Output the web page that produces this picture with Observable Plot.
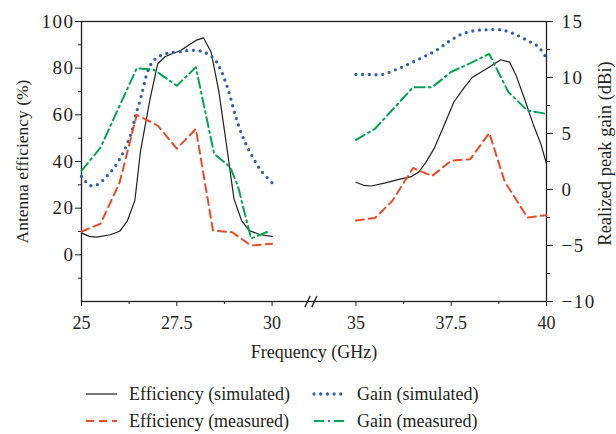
<!DOCTYPE html>
<html><head><meta charset="utf-8">
<script src="https://cdn.jsdelivr.net/npm/d3@7"></script>
<script src="https://cdn.jsdelivr.net/npm/@observablehq/plot@0.6"></script>
<style>
body{margin:0;background:#fff;font-family:"Liberation Serif","Times New Roman",serif;}
#wrap{position:relative;width:616px;height:434px;overflow:hidden;}
.leg{position:absolute;display:flex;align-items:center;font-size:18px;color:#231f20;white-space:nowrap;height:20px;}
.leg svg{margin-right:11px;}
.yt text{letter-spacing:1.5px;}
</style></head><body><div id="wrap"><div id="chart"></div></div>
<script>
// ---- data ----
const effSimF1 = [25, 25.2, 25.4, 25.75, 26.0, 26.2, 26.4, 26.55, 26.8, 27.0, 27.2, 27.6, 28.0, 28.2, 28.4, 28.6, 28.8, 29.0, 29.2, 29.4, 29.7, 30.0];
const effSimV1 = [9.4, 7.9, 7.6, 8.6, 10.1, 14.4, 23.3, 44.7, 66.9, 81.9, 85, 87.6, 91.9, 93, 86.9, 70.4, 47.6, 24, 14.7, 10.4, 8.6, 7.9];
const effSimF2 = [35, 35.2, 35.4, 35.75, 36.1, 36.45, 36.65, 36.83, 37.05, 37.3, 37.57, 37.85, 38.05, 38.45, 38.8, 39.03, 39.2, 39.42, 39.65, 39.85, 40];
const effSimV2 = [31.1, 29.8, 29.5, 30.7, 32.2, 33.5, 35.5, 39.5, 45.5, 55, 65.5, 71.9, 76, 80, 83.6, 82.6, 77, 67, 56, 47.6, 39];

const effMeasF1 = [25, 25.5, 26.0, 26.45, 27.0, 27.5, 28.0, 28.45, 28.95, 29.45, 30];
const effMeasV1 = [10, 13.3, 31, 60, 55.4, 45.5, 54, 10.4, 9.7, 4, 4.7];
const effMeasF2 = [35, 35.5, 35.95, 36.5, 37.0, 37.5, 38.0, 38.5, 38.9, 39.5, 40];
const effMeasV2 = [14.7, 15.8, 23, 37.2, 33.8, 40.4, 41, 52.2, 31.5, 16, 17];

const gainSimF1 = [25, 25.23, 25.42, 25.68, 25.9, 26.12, 26.3, 26.42, 26.56, 26.73, 26.86, 27.0, 27.26, 27.61, 27.83, 28.13, 28.44, 28.62, 28.84, 29.05, 29.27, 29.49, 29.71, 30];
const gainSimG1 = [1.17, 0.35, 0.44, 1.25, 2.15, 3.48, 4.98, 6.6, 8.25, 10.48, 11.38, 11.81, 12.17, 12.31, 12.42, 12.35, 11.81, 10.92, 9.0, 6.46, 4.38, 2.9, 1.69, 0.6];
const gainSimF2 = [35, 35.35, 35.7, 36.05, 36.4, 36.75, 37.1, 37.45, 37.8, 38.15, 38.45, 38.8, 39.15, 39.5, 39.8, 40];
const gainSimG2 = [10.27, 10.27, 10.27, 10.71, 11.22, 11.8, 12.41, 13.24, 13.9, 14.2, 14.26, 14.26, 13.9, 13.3, 12.7, 11.7];

const gainMeasF1 = [25, 25.5, 26.45, 26.9, 27.5, 28.0, 28.48, 28.9, 29.1, 29.45, 29.9];
const gainMeasG1 = [1.67, 3.75, 10.83, 10.69, 9.27, 10.92, 3.19, 2.0, 0.35, -4.38, -3.75];
const gainMeasF2 = [35, 35.5, 36.5, 37.0, 37.5, 37.95, 38.5, 39.0, 39.5, 40];
const gainMeasG2 = [4.44, 5.42, 9.13, 9.13, 10.5, 11.2, 12.1, 8.7, 7.05, 6.76];

const xTicks = [25, 27.5, 30, 35, 37.5, 40];
const xMinor = [26.25, 28.75, 36.25, 38.75];
const leftTicks = [0, 20, 40, 60, 80, 100];
const leftMinor = [-10, 10, 30, 50, 70, 90];
const rightTicks = [-10, -5, 0, 5, 10, 15];
const rightMinor = [-7.5, -2.5, 2.5, 7.5, 12.5];
const breakAt = [30.93, 31.11];

const seriesNames = ["Efficiency (simulated)", "Efficiency (measured)", "Gain (simulated)", "Gain (measured)"];
const colors = {ink: "#231f20", red: "#ef4a26", blue: "#2f5fb5", green: "#00a651"};

// ---- helpers ----
const GAP = 2.8; // GHz removed by axis break
const brk = f => f > 32 ? f - GAP : f;
const unbrk = x => x > 31.5 ? x + GAP : x;
const toLeft = g => (g + 10) * 4.8 - 20;   // dBi -> % axis units
const fromLeft = v => (v + 20) / 4.8 - 10;
const minus = n => n < 0 ? "\u2212" + Math.abs(n) : String(n);

function rows(fs, vs, seg, conv = v => v) {
  return fs.map((f, i) => ({f: brk(f), v: conv(vs[i]), seg}));
}
const effSim = [...rows(effSimF1, effSimV1, "a"), ...rows(effSimF2, effSimV2, "b")];
const effMeas = [...rows(effMeasF1, effMeasV1, "a"), ...rows(effMeasF2, effMeasV2, "b")];
const gainSim = [...rows(gainSimF1, gainSimG1, "a", toLeft), ...rows(gainSimF2, gainSimG2, "b", toLeft)];
const gainMeas = [...rows(gainMeasF1, gainMeasG1, "a", toLeft), ...rows(gainMeasF2, gainMeasG2, "b", toLeft)];

const styles = [
  {stroke: colors.ink, strokeWidth: 1.2},
  {stroke: colors.red, strokeWidth: 2, strokeDasharray: "8 5"},
  {stroke: colors.blue, strokeWidth: 3.3, strokeDasharray: "0 6.7", strokeLinecap: "round"},
  {stroke: colors.green, strokeWidth: 2, strokeDasharray: "10 4 2 4"}
];

const chart = Plot.plot({
  width: 616, height: 370,
  marginLeft: 81, marginRight: 70, marginTop: 21, marginBottom: 69,
  style: {fontFamily: "'Liberation Serif', 'Times New Roman', serif", fontSize: "18px", color: colors.ink, background: "white"},
  x: {domain: [25, 37.2]},
  y: {domain: [-20, 100]},
  marks: [
    Plot.axisY({ticks: leftTicks, tickSize: 6, tickPadding: 1, label: null, fontSize: 19, className: "yt"}),
    Plot.axisY({ticks: leftMinor, tickSize: 3, tickFormat: () => "", label: null}),
    Plot.axisY({anchor: "right", ticks: rightTicks.map(toLeft), tickSize: 6, tickPadding: 9, label: null, fontSize: 19, className: "yt",
      tickFormat: v => minus(Math.round(fromLeft(v)))}),
    Plot.axisY({anchor: "right", ticks: rightMinor.map(toLeft), tickSize: 3, tickFormat: () => "", label: null}),
    Plot.axisX({ticks: xTicks.map(brk), tickSize: 5, tickPadding: 10, label: null,
      tickFormat: x => String(Math.round(unbrk(x) * 10) / 10)}),
    Plot.axisX({ticks: xMinor.map(brk), tickSize: 3, tickFormat: () => "", label: null}),
    Plot.frame({stroke: colors.ink, strokeWidth: 1.3}),
    Plot.link(breakAt, {x1: d => d - 0.07, x2: d => d + 0.07, y1: -22.4, y2: -17.6, stroke: colors.ink, strokeWidth: 1.3}),
    Plot.line(effSim, {x: "f", y: "v", z: "seg", ...styles[0]}),
    Plot.line(gainSim, {x: "f", y: "v", z: "seg", curve: "catmull-rom", ...styles[2]}),
    Plot.line(gainMeas, {x: "f", y: "v", z: "seg", ...styles[3]}),
    Plot.line(effMeas, {x: "f", y: "v", z: "seg", ...styles[1]}),
    Plot.text(["Antenna efficiency (%)"], {frameAnchor: "left", textAnchor: "middle", rotate: -90, dx: -59, fontSize: 17.5, fill: colors.ink}),
    Plot.text(["Realized peak gain (dBi)"], {frameAnchor: "right", textAnchor: "middle", rotate: -90, dx: 59, dy: -8, fontSize: 18.5, fill: colors.ink}),
    Plot.text(["Frequency (GHz)"], {frameAnchor: "bottom", dy: 56, fontSize: 18, fill: colors.ink})
  ]
});
const wrap = document.getElementById("wrap");
document.getElementById("chart").appendChild(chart);

// ---- legend ----
const legPos = [[84, 384], [84, 411], [312, 384], [312, 411]];
seriesNames.forEach((name, i) => {
  const d = document.createElement("div");
  d.className = "leg";
  d.style.left = legPos[i][0] + "px";
  d.style.top = legPos[i][1] + "px";
  const s = styles[i];
  d.innerHTML = `<svg width="34" height="10"><line x1="2" y1="5" x2="33" y2="5" stroke="${s.stroke}" stroke-width="${s.strokeWidth}" ${s.strokeDasharray ? `stroke-dasharray="${s.strokeDasharray}"` : ""} ${s.strokeLinecap ? `stroke-linecap="${s.strokeLinecap}"` : ""}/></svg><span>${name}</span>`;
  wrap.appendChild(d);
});
</script>
</body></html>
